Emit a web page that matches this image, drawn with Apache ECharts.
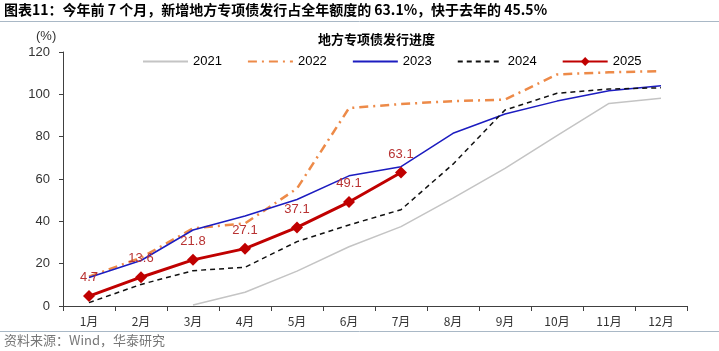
<!DOCTYPE html>
<html>
<head>
<meta charset="UTF-8">
<title>地方专项债发行进度</title>
<script src="https://cdn.jsdelivr.net/npm/echarts@6/dist/echarts.min.js"></script>
<style>
  html, body { margin: 0; padding: 0; background: #fff; }
  #main { width: 719px; height: 351px; }
</style>
</head>
<body>
<div id="main"></div>
<script>
// 数据
var months = ['1月', '2月', '3月', '4月', '5月', '6月', '7月', '8月', '9月', '10月', '11月', '12月'];
var y2021 = [null, null, 0.5, 6.5, 16.5, 28, 37.5, 51, 65, 80.5, 95.7, 98.1];
var y2022 = [13.9, 22.8, 36.7, 39, 55.5, 93.5, 95.4, 96.8, 97.5, 109.4, 110.4, 111];
var y2023 = [13.5, 21.5, 35.9, 42.5, 50.3, 61.5, 65.8, 81.6, 90.7, 96.8, 101.7, 104.1];
var y2024 = [1.6, 10.2, 16.7, 18.3, 30.4, 38.3, 45.5, 67, 92.6, 100.5, 102.5, 103.1];
var y2025 = [4.7, 13.6, 21.8, 27.1, 37.1, 49.1, 63.1];
var yTicks = [0, 20, 40, 60, 80, 100, 120];

var font = 'Liberation Sans, Arial, Noto Sans CJK SC, sans-serif';
var cjk = 'Noto Sans CJK SC, sans-serif';

var myChart = echarts.init(document.getElementById('main'));

// 无标记的系列，图例里不画圆点
var noDot = { opacity: 0 };

var option = {
  animation: false,
  textStyle: { fontFamily: font },
  title: {
    text: '地方专项债发行进度',
    left: 313,
    top: 28,
    textStyle: { fontFamily: cjk, fontSize: 13, fontWeight: 'bold', color: '#000' }
  },
  graphic: [
    {
      type: 'text', left: 4, top: 3,
      style: {
        text: '图表11：今年前 7 个月，新增地方专项债发行占全年额度的 63.1%，快于去年的 45.5%',
        font: 'bold 14px ' + cjk, fill: '#000'
      }
    },
    { type: 'line', shape: { x1: 0, y1: 21.5, x2: 719, y2: 21.5 }, style: { stroke: '#a9b8c6', lineWidth: 1 } },
    { type: 'text', left: 36, top: 30, style: { text: '(%)', font: '13px ' + font, fill: '#333' } },
    { type: 'line', shape: { x1: 0, y1: 331.5, x2: 719, y2: 331.5 }, style: { stroke: '#a9b8c6', lineWidth: 1 } },
    {
      type: 'text', left: 4, top: 334,
      style: { text: '资料来源：Wind，华泰研究', font: '13px ' + cjk, fill: '#777' }
    }
  ],
  legend: {
    top: 50,
    left: 137,
    itemWidth: 45,
    itemHeight: 11,
    itemGap: 25,
    textStyle: { fontSize: 13, color: '#000', fontFamily: font },
    data: [
      { name: '2021', itemStyle: noDot },
      { name: '2022', itemStyle: noDot },
      { name: '2023', itemStyle: noDot },
      { name: '2024', itemStyle: noDot },
      { name: '2025' }
    ]
  },
  grid: { left: 63, right: 32, top: 52, bottom: 45 },
  xAxis: {
    type: 'category',
    data: months,
    boundaryGap: true,
    axisLine: { lineStyle: { color: '#404040', width: 1 } },
    axisTick: { show: true, length: 5, lineStyle: { color: '#404040' } },
    axisLabel: { fontSize: 12, color: '#333', fontFamily: cjk, margin: 9 }
  },
  yAxis: {
    type: 'value',
    min: 0,
    max: 120,
    interval: 20,
    axisLine: { show: true, lineStyle: { color: '#404040', width: 1 } },
    axisTick: { show: true, length: 4, lineStyle: { color: '#404040' } },
    splitLine: { show: false },
    axisLabel: {
      fontSize: 13, color: '#333', margin: 13,
      formatter: function (v) { return yTicks.indexOf(v) >= 0 ? String(v) : ''; }
    }
  },
  series: [
    {
      name: '2021', type: 'line', data: y2021, symbol: 'none',
      lineStyle: { color: '#c4c4c4', width: 1.5 }, itemStyle: { color: '#c4c4c4' }
    },
    {
      name: '2022', type: 'line', data: y2022, symbol: 'none',
      lineStyle: { color: '#ed8a48', width: 2.5, type: [9, 5, 2, 5] }, itemStyle: { color: '#ed8a48' }
    },
    {
      name: '2023', type: 'line', data: y2023, symbol: 'none',
      lineStyle: { color: '#1c1cc0', width: 1.5 }, itemStyle: { color: '#1c1cc0' }
    },
    {
      name: '2024', type: 'line', data: y2024, symbol: 'none',
      lineStyle: { color: '#111', width: 1.5, type: [5, 4] }, itemStyle: { color: '#111' }
    },
    {
      name: '2025', type: 'line', data: y2025, symbol: 'diamond', symbolSize: 12,
      lineStyle: { color: '#c00000', width: 3 }, itemStyle: { color: '#c00000' },
      label: {
        show: true, position: 'top', distance: 6,
        fontSize: 13, color: '#b83232', fontFamily: font,
        formatter: function (p) { return p.value.toFixed(1); }
      },
      z: 5
    }
  ]
};

myChart.setOption(option);
</script>
</body>
</html>
